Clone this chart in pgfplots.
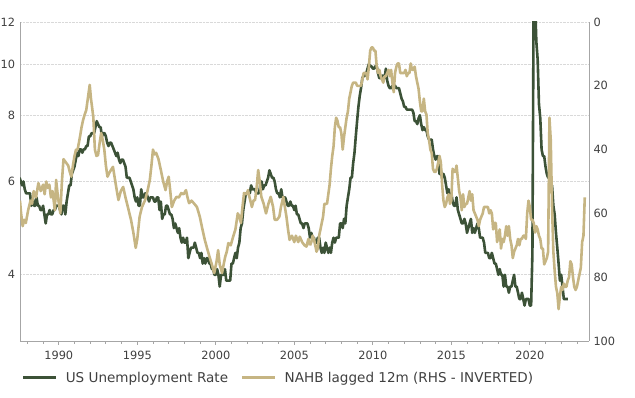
\documentclass[border=0pt]{standalone}
\usepackage{fontspec}
\setmainfont{DejaVu Sans}
\usepackage{pgfplots}
\pgfplotsset{compat=1.18}
\definecolor{ugreen}{HTML}{3C5237}
\definecolor{nahb}{HTML}{C6B583}
\definecolor{axgray}{HTML}{A6A6A6}
\definecolor{gridgray}{HTML}{D9D9D9}
\definecolor{txt}{HTML}{404040}
\begin{document}
\begin{tikzpicture}
\useasboundingbox (-20bp,-57bp) rectangle (615bp,341bp);
\begin{axis}[
 at={(0,0)}, anchor=south west,
 scale only axis, width=569bp, height=319bp,
 xmin=1987.53, xmax=2023.77,
 ymode=log, ymin=3, ymax=12,
 axis x line*=bottom, axis y line*=left,
 axis line style={axgray, line width=0.8bp, -},
 xtick={1990,1995,2000,2005,2010,2015,2020},
 xticklabels={1990,1995,2000,2005,2010,2015,2020},
 minor xtick={1988,1989,1990,1991,1992,1993,1994,1995,1996,1997,1998,1999,2000,2001,2002,2003,2004,2005,2006,2007,2008,2009,2010,2011,2012,2013,2014,2015,2016,2017,2018,2019,2020,2021,2022,2023},
 tick align=outside,
 xtick style={axgray, line width=0.8bp},
 major tick length=4bp, minor tick length=3bp,
 ytick={4,6,8,10,12}, yticklabels={4,6,8,10,12},
 yminorticks=false, ytick style={draw=none},
 ymajorgrids, grid style={gridgray, densely dotted, line width=0.8bp},
 tick label style={font=\fontsize{11.4}{13}\selectfont, text=txt},
 xticklabel style={yshift=-3bp},
 yticklabel style={xshift=2.5bp},
]
\addplot[ugreen, line width=2.6bp, line join=round] table[row sep=\\, x expr=1987.5+\coordindex/12, y index=0]{u\\
6.1\\6.0\\5.9\\6.0\\5.8\\5.7\\
5.7\\5.7\\5.7\\5.4\\5.6\\5.4\\5.4\\5.6\\5.4\\5.4\\5.3\\5.3\\
5.4\\5.2\\5.0\\5.2\\5.2\\5.3\\5.2\\5.2\\5.3\\5.3\\5.4\\5.4\\
5.4\\5.3\\5.2\\5.4\\5.4\\5.2\\5.5\\5.7\\5.9\\5.9\\6.2\\6.3\\
6.4\\6.6\\6.8\\6.7\\6.9\\6.9\\6.8\\6.9\\6.9\\7.0\\7.0\\7.3\\
7.3\\7.4\\7.4\\7.4\\7.6\\7.8\\7.7\\7.6\\7.6\\7.3\\7.4\\7.4\\
7.3\\7.1\\7.0\\7.1\\7.1\\7.0\\6.9\\6.8\\6.7\\6.8\\6.6\\6.5\\
6.6\\6.6\\6.5\\6.4\\6.1\\6.1\\6.1\\6.0\\5.9\\5.8\\5.6\\5.5\\
5.6\\5.4\\5.4\\5.8\\5.6\\5.6\\5.7\\5.7\\5.6\\5.5\\5.6\\5.6\\
5.6\\5.5\\5.5\\5.6\\5.6\\5.3\\5.5\\5.1\\5.2\\5.2\\5.4\\5.4\\
5.3\\5.2\\5.2\\5.1\\4.9\\5.0\\4.9\\4.8\\4.9\\4.7\\4.6\\4.7\\
4.6\\4.6\\4.7\\4.3\\4.4\\4.5\\4.5\\4.5\\4.6\\4.5\\4.4\\4.4\\
4.3\\4.4\\4.2\\4.3\\4.2\\4.3\\4.3\\4.2\\4.2\\4.1\\4.1\\4.0\\
4.0\\4.1\\4.0\\3.8\\4.0\\4.0\\4.0\\4.1\\3.9\\3.9\\3.9\\3.9\\
4.2\\4.2\\4.3\\4.4\\4.3\\4.5\\4.6\\4.9\\5.0\\5.3\\5.5\\5.7\\
5.7\\5.7\\5.7\\5.9\\5.8\\5.8\\5.8\\5.7\\5.7\\5.7\\5.9\\6.0\\
5.8\\5.9\\5.9\\6.0\\6.1\\6.3\\6.2\\6.1\\6.1\\6.0\\5.8\\5.7\\
5.7\\5.6\\5.8\\5.6\\5.6\\5.6\\5.5\\5.4\\5.4\\5.5\\5.4\\5.4\\
5.3\\5.4\\5.2\\5.2\\5.1\\5.0\\5.0\\4.9\\5.0\\5.0\\5.0\\4.9\\
4.7\\4.8\\4.7\\4.7\\4.6\\4.6\\4.7\\4.7\\4.5\\4.4\\4.5\\4.4\\
4.6\\4.5\\4.4\\4.5\\4.4\\4.6\\4.7\\4.6\\4.7\\4.7\\4.7\\5.0\\
5.0\\4.9\\5.1\\5.0\\5.4\\5.6\\5.8\\6.1\\6.1\\6.5\\6.8\\7.3\\
7.8\\8.3\\8.7\\9.0\\9.4\\9.5\\9.5\\9.6\\9.8\\10.0\\9.9\\9.9\\
9.8\\9.8\\9.9\\9.9\\9.6\\9.4\\9.4\\9.5\\9.5\\9.4\\9.8\\9.3\\
9.1\\9.0\\9.0\\9.1\\9.0\\9.1\\9.0\\9.0\\9.0\\8.8\\8.6\\8.5\\
8.3\\8.3\\8.2\\8.2\\8.2\\8.2\\8.2\\8.1\\7.8\\7.8\\7.7\\7.9\\
8.0\\7.7\\7.5\\7.6\\7.5\\7.5\\7.3\\7.2\\7.2\\7.2\\6.9\\6.7\\
6.6\\6.7\\6.7\\6.2\\6.3\\6.1\\6.2\\6.1\\5.9\\5.7\\5.8\\5.6\\
5.7\\5.5\\5.4\\5.4\\5.6\\5.3\\5.2\\5.1\\5.0\\5.0\\5.1\\5.0\\
4.8\\4.9\\5.0\\5.1\\4.8\\4.9\\4.8\\4.9\\5.0\\4.9\\4.7\\4.7\\
4.7\\4.6\\4.4\\4.4\\4.4\\4.3\\4.3\\4.4\\4.3\\4.2\\4.2\\4.1\\
4.0\\4.1\\4.0\\4.0\\3.8\\4.0\\3.8\\3.8\\3.7\\3.8\\3.8\\3.9\\
4.0\\3.8\\3.8\\3.7\\3.6\\3.6\\3.7\\3.6\\3.5\\3.6\\3.6\\3.6\\
3.5\\3.5\\4.4\\14.7\\13.2\\11.0\\10.2\\8.4\\7.9\\6.9\\6.7\\6.7\\
6.4\\6.2\\6.1\\6.1\\5.8\\5.9\\5.4\\5.2\\4.8\\4.5\\4.2\\3.9\\
4.0\\3.8\\3.6\\3.6\\3.6\\3.6\\
};
\end{axis}
\begin{axis}[
 at={(0,0)}, anchor=south west,
 scale only axis, width=569bp, height=319bp,
 xmin=1987.53, xmax=2023.77,
 ymin=0, ymax=100, y dir=reverse,
 axis x line=none, axis y line*=right,
 axis line style={axgray, line width=0.8bp, -},
 ytick={0,20,40,60,80,100}, yticklabels={0,20,40,60,80,100},
 ytick style={draw=none}, yminorticks=false,
 tick label style={font=\fontsize{11.4}{13}\selectfont, text=txt},
 yticklabel style={xshift=1bp},
 legend style={at={(0.0035,-0.115)}, anchor=west, draw=none, fill=none,
   inner sep=0pt, font=\fontsize{13.6}{16}\selectfont, text=txt,
   /tikz/every even column/.append style={column sep=11bp}},
 legend columns=2, legend cell align=left,
 legend image code/.code={\draw[#1] (0bp,0bp) -- (33bp,0bp); \path (39bp,0bp);},
]
\addlegendimage{ugreen, line width=2.6bp}
\addlegendentry{US Unemployment Rate}
\addplot[nahb, line width=2.6bp, line join=round] coordinates {
(1987.53,56) (1987.6,60) (1987.7,64) (1987.8,62) (1987.9,63) (1988.05,59) (1988.2,56) (1988.3,57) (1988.4,53) (1988.55,55) (1988.7,50.5) (1988.85,53)
(1989.0,51) (1989.1,54) (1989.2,50) (1989.3,52) (1989.4,51) (1989.5,55) (1989.6,53) (1989.75,59) (1989.83,49.5) (1989.95,55)
(1990.1,60) (1990.2,50) (1990.3,43) (1990.45,44) (1990.6,45) (1990.7,47) (1990.8,48.5) (1990.9,45)
(1991.0,42) (1991.1,40) (1991.2,40) (1991.35,36) (1991.45,33) (1991.55,30.7) (1991.65,29) (1991.75,27.6) (1991.85,24) (1991.97,19.7)
(1992.05,24) (1992.2,29.8) (1992.3,40) (1992.4,42) (1992.5,41.7) (1992.6,38) (1992.7,34.8) (1992.8,37) (1992.9,40)
(1993.0,45) (1993.1,48.5) (1993.25,47) (1993.45,45.4) (1993.6,50) (1993.7,53) (1993.8,55.8) (1993.95,53)
(1994.1,51.7) (1994.25,55) (1994.35,57) (1994.5,60) (1994.6,62) (1994.75,66) (1994.9,70.8)
(1995.0,68) (1995.15,61) (1995.3,58) (1995.5,55.8) (1995.65,53) (1995.8,49.5) (1995.9,45)
(1996.0,40) (1996.1,41.5) (1996.2,41) (1996.35,43) (1996.5,46.4) (1996.65,50) (1996.8,52.7) (1996.9,50)
(1997.0,48.5) (1997.1,53) (1997.2,58) (1997.35,56) (1997.5,54.8) (1997.65,55) (1997.8,53.6) (1997.95,54)
(1998.1,52.7) (1998.2,55) (1998.3,56.8) (1998.45,56) (1998.6,56.8) (1998.8,58) (1998.98,61)
(1999.15,65) (1999.3,68.3) (1999.45,71) (1999.6,73.6) (1999.75,76) (1999.9,78.7)
(2000.05,75) (2000.15,71.5) (2000.25,76) (2000.4,78.7) (2000.5,76) (2000.6,73.6) (2000.7,72) (2000.8,69.3) (2000.95,70)
(2001.1,67.4) (2001.25,65) (2001.4,60) (2001.5,61) (2001.6,63) (2001.7,58) (2001.8,53.6) (2001.95,54)
(2002.05,52.7) (2002.15,55) (2002.3,58) (2002.4,56) (2002.5,55.8) (2002.6,52) (2002.7,46.4) (2002.8,50) (2002.9,54.8)
(2003.05,57) (2003.2,60) (2003.35,57) (2003.5,54.8) (2003.65,58) (2003.75,62) (2003.9,62)
(2004.05,61) (2004.15,58) (2004.3,54.8) (2004.4,58) (2004.5,61) (2004.6,65) (2004.7,68.3) (2004.85,67)
(2005.0,69) (2005.1,67) (2005.25,69) (2005.35,67.3) (2005.5,69) (2005.65,70) (2005.77,70.4) (2005.9,68) (2006.0,70)
};
\addlegendentry{NAHB lagged 12m (RHS - INVERTED)}
\addplot[nahb, line width=2.6bp, line join=round, forget plot] table[row sep=\\, x expr=2006+\coordindex/12, y index=0]{v\\
70\\69\\67\\68\\70\\72\\71\\67\\65\\63\\61\\57\\
57\\57\\54\\51\\46\\42\\39\\33\\30\\31\\33\\33\\
35\\40\\36\\33\\30\\28\\24\\22\\20\\19\\19\\19\\
20\\20\\20\\20\\18\\16\\16\\16\\18\\14\\9\\8\\
8\\9\\9\\14\\16\\15\\17\\18\\19\\17\\17\\16\\
15\\17\\15\\19\\22\\16\\14\\13\\13\\16\\16\\16\\
16\\15\\17\\16\\16\\13\\15\\15\\14\\17\\19\\21\\
25\\28\\28\\24\\28\\29\\35\\37\\40\\41\\46\\47\\
47\\46\\44\\42\\44\\51\\56\\58\\57\\55\\54\\57\\
56\\46\\47\\47\\45\\49\\53\\55\\59\\54\\58\\57\\
57\\55\\53\\56\\54\\59\\60\\61\\62\\64\\62\\61\\
60\\58\\58\\58\\58\\60\\59\\60\\65\\63\\63\\69\\
67\\65\\71\\68\\69\\67\\64\\67\\64\\68\\70\\74\\
72\\71\\70\\68\\70\\68\\68\\67\\67\\68\\60\\56\\
58\\62\\62\\63\\66\\64\\65\\67\\68\\71\\71\\76\\
75\\74\\72\\30\\37\\58\\72\\78\\83\\85\\90\\86\\
83\\84\\82\\83\\83\\81\\80\\75\\76\\80\\83\\84\\
83\\81\\79\\77\\69\\67\\55\\
};
\end{axis}
\end{tikzpicture}
\end{document}
